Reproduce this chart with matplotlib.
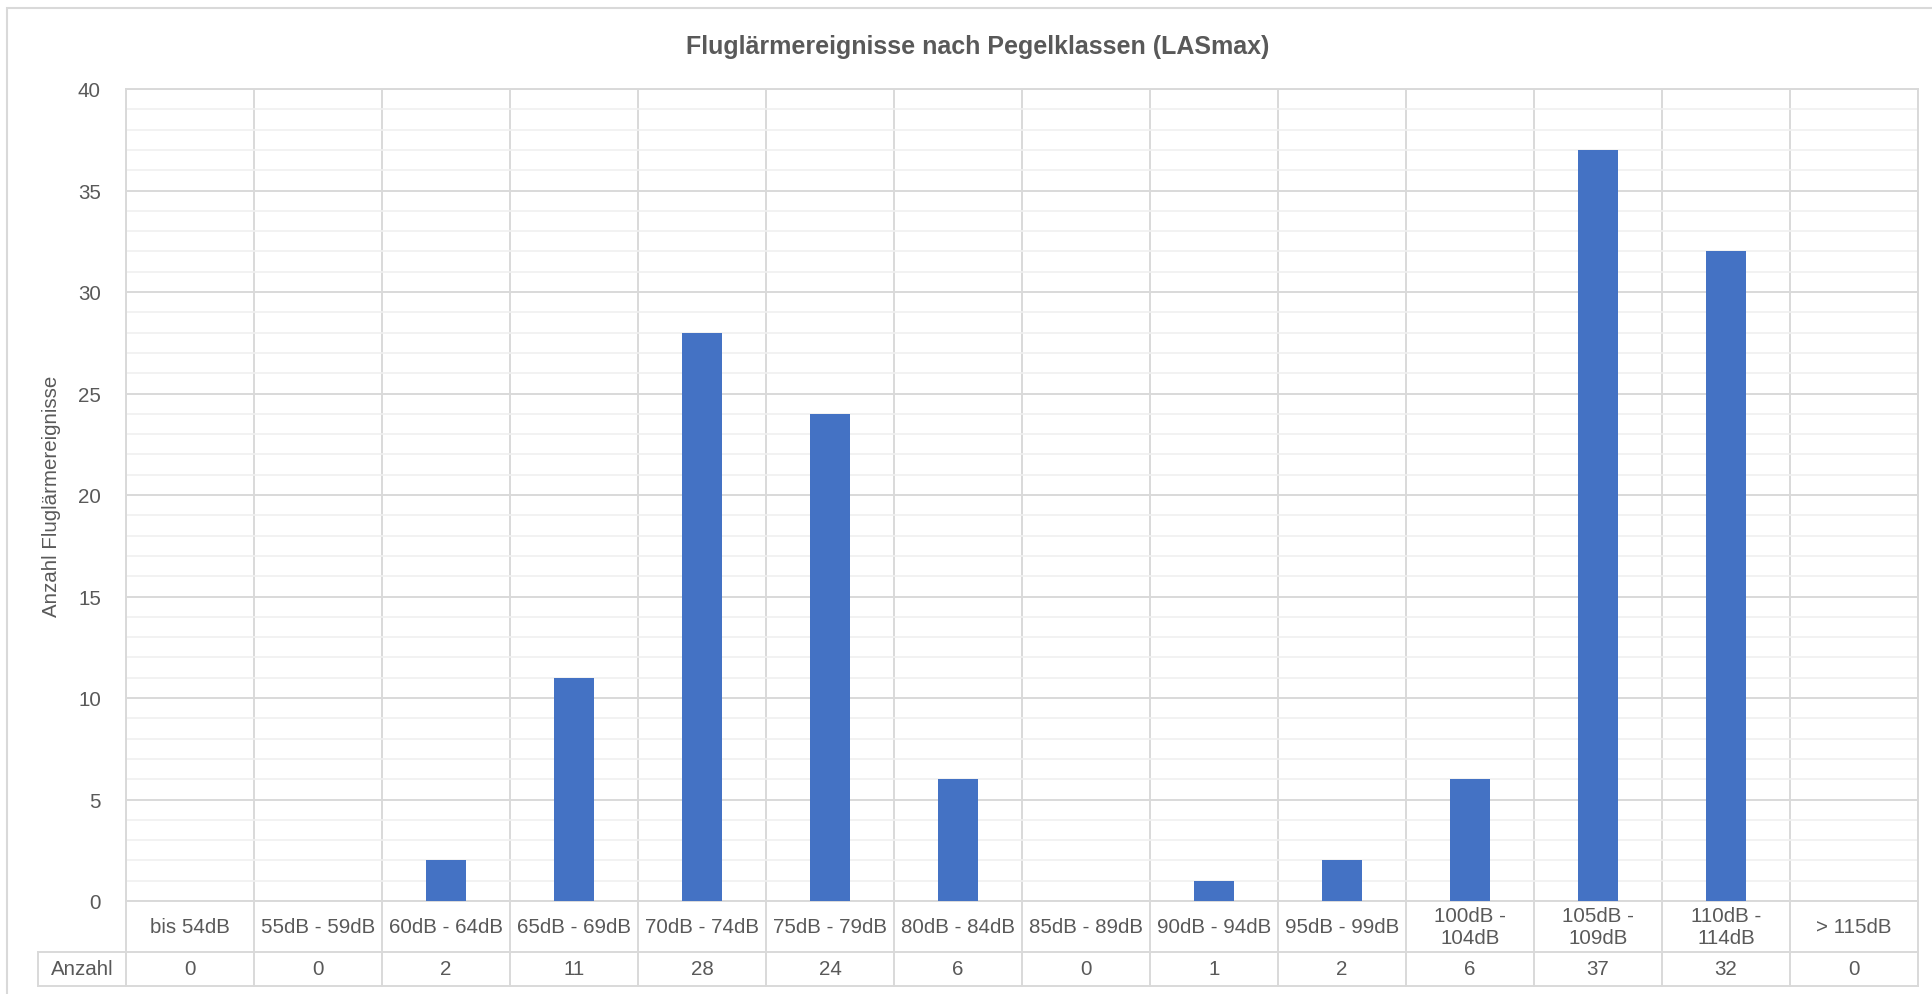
import matplotlib
matplotlib.use("Agg")
import matplotlib.pyplot as plt
import matplotlib.transforms as mtransforms
from matplotlib.patches import Rectangle
import numpy as np

plt.rcParams['font.family'] = ['Liberation Sans', 'DejaVu Sans']

title = "Fluglärmereignisse nach Pegelklassen (LASmax)"
ylabel = "Anzahl Fluglärmereignisse"
row_label = "Anzahl"
categories = ["bis 54dB", "55dB - 59dB", "60dB - 64dB", "65dB - 69dB", "70dB - 74dB",
              "75dB - 79dB", "80dB - 84dB", "85dB - 89dB", "90dB - 94dB", "95dB - 99dB",
              "100dB -\n104dB", "105dB -\n109dB", "110dB -\n114dB", "> 115dB"]
values = [0, 0, 2, 11, 28, 24, 6, 0, 1, 2, 6, 37, 32, 0]
yticks = [0, 5, 10, 15, 20, 25, 30, 35, 40]

W, H = 1933, 995
fig = plt.figure(figsize=(W / 100, H / 100), dpi=100)
TEXT = "#595959"
GRID = "#D9D9D9"
MINOR = "#F0F0F0"
BAR = "#4472C4"
FS = 14.8

left_px, right_px, top_px, bot_px = 126, 1918, 90, 902
ax = fig.add_axes([left_px / W, 1 - bot_px / H, (right_px - left_px) / W, (bot_px - top_px) / H])

n = len(categories)
x = np.arange(n)
ax.bar(x, values, width=0.31, color=BAR, zorder=3)
ax.set_xlim(-0.5, n - 0.5)
ax.set_ylim(0, 40)

ax.set_yticks(yticks)
ax.set_yticklabels([str(t) for t in yticks], fontsize=FS, color=TEXT)
ax.set_yticks(np.arange(0, 41, 1), minor=True)
ax.set_xticks(np.arange(-0.5, n, 1))
ax.set_xticklabels([])
ax.tick_params(axis='both', which='both', length=0)
ax.tick_params(axis='y', pad=18)
ax.grid(True, axis='y', which='minor', color=MINOR, linewidth=1.2, zorder=0)
ax.grid(True, axis='y', which='major', color=GRID, linewidth=1.4, zorder=1)
ax.grid(True, axis='x', which='major', color=GRID, linewidth=1.4, zorder=1)
for s in ax.spines.values():
    s.set_color(GRID)
    s.set_linewidth(1.4)

fig.text(52 / W, 1 - (top_px + bot_px) / 2 / H, ylabel, rotation=90, ha='center', va='center',
         fontsize=FS, color=TEXT)

# data table below
axh = bot_px - top_px
r1 = -(953 - bot_px) / axh
r2 = -(987 - bot_px) / axh
trans = mtransforms.blended_transform_factory(ax.transData, ax.transAxes)
lw = 1.4
for b in np.arange(-0.5, n, 1):
    ax.plot([b, b], [0, r2], transform=trans, color=GRID, lw=lw, clip_on=False)
xl_label = -0.5 - (left_px - 38) / ((right_px - left_px) / n)
ax.plot([xl_label, n - 0.5], [r1, r1], transform=trans, color=GRID, lw=lw, clip_on=False)
ax.plot([xl_label, n - 0.5], [r2, r2], transform=trans, color=GRID, lw=lw, clip_on=False)
ax.plot([xl_label, xl_label], [r1, r2], transform=trans, color=GRID, lw=lw, clip_on=False)

for i, (c, v) in enumerate(zip(categories, values)):
    ax.text(i, r1 / 2, c, transform=trans, ha='center', va='center', fontsize=FS,
            color=TEXT, linespacing=1.2)
    ax.text(i, (r1 + r2) / 2, str(v), transform=trans, ha='center', va='center',
            fontsize=FS, color=TEXT)
ax.text((xl_label - 0.5) / 2, (r1 + r2) / 2, row_label, transform=trans, ha='center',
        va='center', fontsize=FS, color=TEXT)

fig.text(978 / W, 1 - 47 / H, title, ha='center', va='center', fontsize=18,
         fontweight='bold', color=TEXT)

# outer chart border
fig.patches.append(Rectangle((7 / W, -0.1), 1.2, 1 - 9 / H + 0.1, transform=fig.transFigure,
                             fill=False, edgecolor=GRID, linewidth=1.5))

fig.savefig("out.png", dpi=100, facecolor='white')
